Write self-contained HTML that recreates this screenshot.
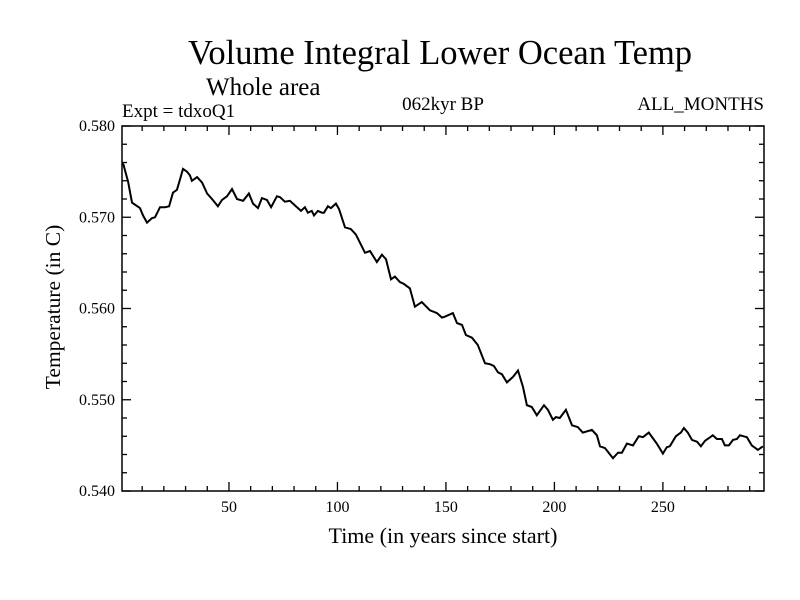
<!DOCTYPE html>
<html><head><meta charset="utf-8"><style>
body{margin:0;background:#fff;}
svg{display:block;font-family:"Liberation Serif",serif;}
</style></head><body>
<svg id="chart" width="800" height="600">
<text x="440" y="64" font-size="34.5" text-anchor="middle">Volume Integral Lower Ocean Temp</text>
<text x="206" y="95" font-size="25">Whole area</text>
<text x="122" y="117" font-size="19">Expt = tdxoQ1</text>
<text x="443" y="110" font-size="19" text-anchor="middle">062kyr BP</text>
<text x="764" y="110" font-size="19" text-anchor="end">ALL_MONTHS</text>
<text x="443" y="543" font-size="22" text-anchor="middle">Time (in years since start)</text>
<text transform="translate(60,307) rotate(-90)" font-size="21.5" text-anchor="middle">Temperature (in C)</text>
<g id="axes"></g>
<path id="line" fill="none" stroke="#000" stroke-width="2"/>
<rect x="122" y="126" width="642" height="365" fill="none" stroke="#000" stroke-width="1.5"/>
</svg>
<script>
const years=[1.2,3.5,5.3,9.0,10.4,12.2,14.5,15.9,18.2,20.5,22.4,24.2,26.0,27.4,28.8,30.6,32.0,32.9,35.3,37.6,39.9,42.2,44.9,46.8,49.1,51.4,53.7,56.5,59.2,61.1,63.4,65.2,67.5,69.4,72.1,73.5,75.8,78.1,80.4,83.2,85.0,86.4,88.2,89.2,91.0,92.9,93.8,95.6,97.0,99.3,100.7,103.5,106.2,108.5,110.8,112.7,115.0,118.2,120.5,122.4,124.7,126.5,128.8,130.6,133.4,135.7,138.9,142.6,145.9,148.2,149.5,153.2,155.1,157.4,159.2,162.0,164.7,168.0,170.3,172.1,174.0,175.8,178.1,180.9,183.2,185.5,187.3,189.6,191.9,195.2,197.0,199.3,200.7,202.5,205.3,208.1,210.8,213.1,217.3,219.6,221.0,223.3,227.0,229.3,231.1,233.4,236.2,238.9,240.8,243.5,247.2,250.0,251.8,253.2,256.0,258.3,259.7,261.5,263.4,265.7,267.5,269.4,271.2,273.0,274.9,277.2,278.6,280.4,282.3,284.1,285.5,288.7,291.0,293.8,296.1];
const temps=[0.5759,0.5739,0.5716,0.5710,0.5702,0.5694,0.5699,0.5700,0.5711,0.5711,0.5712,0.5727,0.5730,0.5741,0.5753,0.5750,0.5746,0.5740,0.5744,0.5738,0.5726,0.5720,0.5712,0.5719,0.5723,0.5731,0.5720,0.5718,0.5726,0.5715,0.5710,0.5721,0.5719,0.5711,0.5723,0.5722,0.5717,0.5718,0.5713,0.5707,0.5711,0.5705,0.5707,0.5702,0.5707,0.5705,0.5705,0.5712,0.5710,0.5715,0.5709,0.5689,0.5687,0.5681,0.5670,0.5661,0.5663,0.5651,0.5659,0.5654,0.5632,0.5635,0.5629,0.5627,0.5622,0.5602,0.5607,0.5598,0.5595,0.5590,0.5591,0.5595,0.5584,0.5582,0.5571,0.5568,0.5560,0.5540,0.5539,0.5537,0.5530,0.5528,0.5519,0.5525,0.5532,0.5514,0.5494,0.5492,0.5483,0.5494,0.5489,0.5478,0.5481,0.5480,0.5489,0.5472,0.5470,0.5464,0.5467,0.5461,0.5449,0.5447,0.5436,0.5442,0.5442,0.5452,0.5450,0.5460,0.5459,0.5464,0.5452,0.5441,0.5448,0.5449,0.5460,0.5464,0.5469,0.5464,0.5456,0.5454,0.5449,0.5455,0.5458,0.5461,0.5457,0.5457,0.5450,0.5450,0.5456,0.5457,0.5461,0.5459,0.5450,0.5445,0.5449];
const xTickLabels=["50","100","150","200","250"];
const yTickLabels=["0.540","0.550","0.560","0.570","0.580"];
const X0=122,X1=764,Y0=491,Y1=126,xMin=0.7,xMax=296.6,yMin=0.540,yMax=0.580;
const sx=v=>X0+(v-xMin)/(xMax-xMin)*(X1-X0);
const sy=v=>Y0-(v-yMin)/(yMax-yMin)*(Y0-Y1);
const ns="http://www.w3.org/2000/svg";
const axes=document.getElementById('axes');
function ln(x1,y1,x2,y2,name){const l=document.createElementNS(ns,'line');
l.setAttribute('x1',x1);l.setAttribute('y1',y1);l.setAttribute('x2',x2);l.setAttribute('y2',y2);
l.setAttribute('stroke','#000');l.setAttribute('stroke-width','1.3');


axes.appendChild(l);}
function tx(x,y,s,anchor,name){const t=document.createElementNS(ns,'text');
t.setAttribute('x',x);t.setAttribute('y',y);t.setAttribute('font-size','16');t.setAttribute('text-anchor',anchor);t.textContent=s;


axes.appendChild(t);}
for(let v=10;v<xMax;v+=10){const x=sx(v);const L=(v%50===0)?9:5;
ln(x,Y0,x,Y0-L,'x-tick');ln(x,Y1,x,Y1+L,'x-tick-top');}
xTickLabels.forEach(s=>tx(sx(+s),512,s,'middle','x-tick-label'));
for(let i=0;i<=20;i++){const v=yMin+i*0.002;const y=sy(v);const L=(i%5===0)?9:5;
ln(X0,y,X0+L,y,'y-tick');ln(X1,y,X1-L,y,'y-tick-right');}
yTickLabels.forEach(s=>tx(115,sy(+s)+5,s,'end','y-tick-label'));
document.getElementById('line').setAttribute('d',years.map((y,i)=>(i?'L':'M')+sx(y).toFixed(1)+','+sy(temps[i]).toFixed(1)).join(''));
</script>
</body></html>
